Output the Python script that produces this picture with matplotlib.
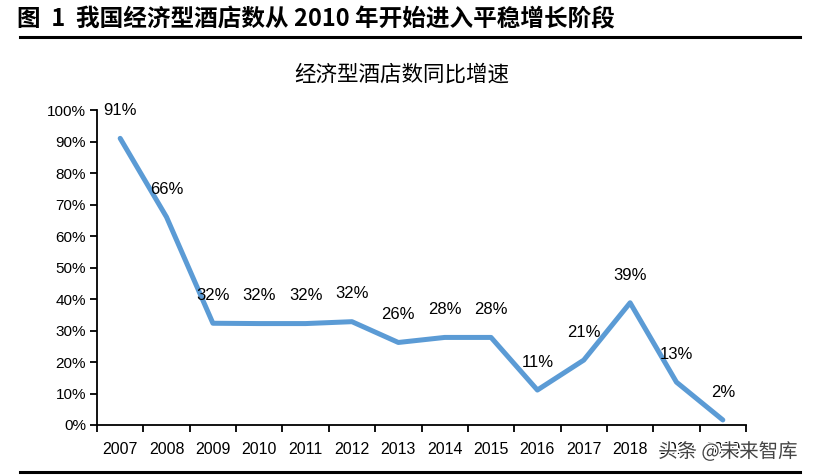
import matplotlib
matplotlib.use("Agg")
import matplotlib.pyplot as plt
import matplotlib.patheffects as pe
import numpy as np

plt.rcParams['font.family'] = ['Liberation Sans', 'Noto Sans CJK SC', 'DejaVu Sans']

# 数据
years = ["2007", "2008", "2009", "2010", "2011", "2012", "2013",
         "2014", "2015", "2016", "2017", "2018", "2019", "2020"]
growth = [91, 66, 32.3, 32.2, 32.2, 32.8, 26.2, 27.8, 27.8, 11.1, 20.6, 38.8, 13.6, 1.6]
labels = ["91%", "66%", "32%", "32%", "32%", "32%", "26%",
          "28%", "28%", "11%", "21%", "39%", "13%", "2%"]
yticks = list(range(0, 101, 10))

fig = plt.figure(figsize=(8.15, 4.76), dpi=100)
ax = fig.add_axes([97/815, 1 - 425/476, (746 - 97)/815, (425 - 110)/476])

x = np.arange(len(years))
ax.plot(x, growth, color='#5B9BD5', lw=3.6, solid_capstyle='round', solid_joinstyle='round')
for xi, yi, lab in zip(x, growth, labels):
    ax.annotate(lab, (xi, yi), xytext=(0, 20), textcoords='offset points',
                ha='center', va='center', fontsize=12)

ax.set_xlim(-0.5, len(years) - 0.5)
ax.set_ylim(0, 100)
ax.set_yticks(yticks)
ax.set_yticklabels([f"{t}%" for t in yticks], fontsize=11)
ax.set_xticks(x)
ax.set_xticklabels(years, fontsize=11.5)
ax.set_xticks(np.arange(-0.5, len(years)), minor=True)
ax.tick_params(axis='x', which='major', length=0, pad=12)
ax.tick_params(axis='x', which='minor', length=5, width=1.3, direction='out')
ax.tick_params(axis='y', length=5, width=1.3, direction='out', pad=3)
for s in ['top', 'right']:
    ax.spines[s].set_visible(False)
for s in ['left', 'bottom']:
    ax.spines[s].set_linewidth(1.3)

cjk = ['Noto Sans CJK SC', 'DejaVu Sans']
fig.text(17/815, 1 - 19/476, "图  1  我国经济型酒店数从 2010 年开始进入平稳增长阶段",
         fontsize=17, fontweight='bold', family=cjk, va='center', ha='left')
fig.add_artist(plt.Line2D([20/815, 800/815], [1 - 37/476] * 2, color='black', lw=2.2))
fig.add_artist(plt.Line2D([20/815, 800/815], [1 - 472/476] * 2, color='black', lw=2.2))
fig.text(402/815, 1 - 75/476, "经济型酒店数同比增速", fontsize=15.5, family=cjk,
         va='center', ha='center')

fig.text(798/815, 1 - 452/476, "头条 @未来智库", fontsize=14, family=cjk, color='#444444',
         ha='right', va='center',
         path_effects=[pe.withStroke(linewidth=2, foreground='white')])

fig.savefig("out.png", dpi=100)
